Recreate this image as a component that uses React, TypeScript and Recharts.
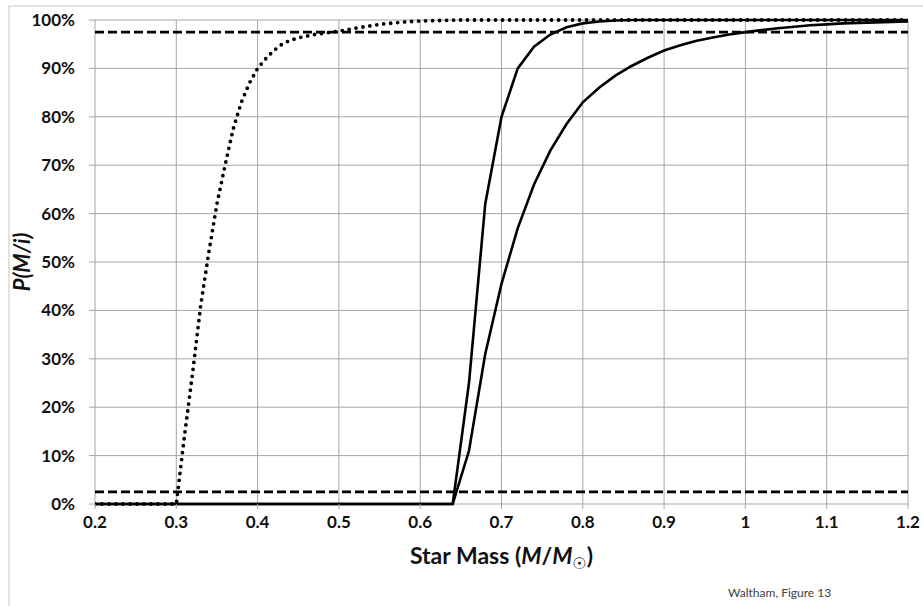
import { LineChart, Line, XAxis, YAxis, CartesianGrid, Label } from "recharts";

// star mass ticks (M/Msun) and probability ticks (%)
const xTicks = [0.2, 0.3, 0.4, 0.5, 0.6, 0.7, 0.8, 0.9, 1.0, 1.1, 1.2];
const yTicks = [0, 10, 20, 30, 40, 50, 60, 70, 80, 90, 100];

// dotted curve
const lowMass = [0.2, 0.3, 0.31, 0.32, 0.33, 0.34, 0.35, 0.36, 0.37, 0.38, 0.39, 0.4, 0.41, 0.42, 0.43, 0.44, 0.45, 0.47, 0.5, 0.52, 0.55, 0.58, 0.6, 0.65, 0.8, 1.0, 1.2];
const lowProb = [0, 0, 14, 27, 41, 52, 62, 70, 77.5, 83, 87, 90, 92, 93.7, 95, 95.8, 96.3, 97, 97.7, 98.3, 99.1, 99.6, 99.8, 100, 100, 100, 100];

// steep solid curve
const steepMass = [0.2, 0.64, 0.66, 0.68, 0.7, 0.72, 0.74, 0.76, 0.78, 0.8, 0.82, 0.84, 0.86, 0.9, 1.0, 1.1, 1.2];
const steepProb = [0, 0, 25, 62, 80, 90, 94.5, 97, 98.5, 99.3, 99.7, 99.9, 100, 100, 100, 100, 100];

// broad solid curve
const broadMass = [0.2, 0.64, 0.66, 0.68, 0.7, 0.72, 0.74, 0.76, 0.78, 0.8, 0.82, 0.84, 0.86, 0.88, 0.9, 0.92, 0.94, 0.96, 0.98, 1.0, 1.02, 1.04, 1.06, 1.08, 1.1, 1.12, 1.14, 1.16, 1.18, 1.2];
const broadProb = [0, 0, 11, 31, 45.5, 57, 66, 73, 78.5, 83, 86, 88.5, 90.5, 92.2, 93.7, 94.8, 95.7, 96.4, 97, 97.5, 97.9, 98.3, 98.6, 98.9, 99.1, 99.3, 99.4, 99.5, 99.6, 99.7];

// 2.5% / 97.5% bounds
const boundMass = [0.2, 1.2];
const upperBound = [97.5, 97.5];
const lowerBound = [2.5, 2.5];

const toRows = (xs: number[], ys: number[]) => xs.map((m, i) => ({ m, p: ys[i] }));

const GRID = "#a6a6a6";
const FONT = "Lato, 'Liberation Sans', sans-serif";

const App = () => {
  const tickStyle = { fontSize: 17, fontWeight: 700, fill: "#111", fontFamily: FONT };

  return (
    <div style={{ position: "absolute", left: 0, top: 0, width: 923, height: 606, overflow: "hidden", background: "#fff" }}>
      <div style={{ position: "absolute", left: 8, top: 5, width: 940, height: 640, border: "2px solid #e2e2e2" }} />
      <LineChart width={923} height={606} margin={{ top: 20, right: 15, bottom: 42, left: 15 }}>
        <CartesianGrid stroke={GRID} strokeWidth={1} />
        <XAxis
          type="number"
          dataKey="m"
          domain={[0.2, 1.2]}
          ticks={xTicks}
          allowDataOverflow
          height={60}
          tickFormatter={(v) => String(Number(Number(v).toFixed(1)))}
          tick={tickStyle}
          tickSize={5}
          tickMargin={7}
          axisLine={false}
          tickLine={{ stroke: GRID }}
        >
          <Label
            content={({ viewBox }: any) => (
              <text
                x={viewBox.x + viewBox.width / 2}
                y={viewBox.y + 60}
                textAnchor="middle"
                style={{ fontSize: 23, fontWeight: 700, fontFamily: FONT, fill: "#111" }}
              >
                Star Mass (<tspan style={{ fontStyle: "italic" }}>M</tspan>/<tspan style={{ fontStyle: "italic" }}>M</tspan>
                <tspan fontSize={16} dy={5} style={{ fontFamily: "'DejaVu Sans', sans-serif" }}>☉</tspan>
                <tspan dy={-5}>)</tspan>
              </text>
            )}
          />
        </XAxis>
        <YAxis
          type="number"
          domain={[0, 100]}
          ticks={yTicks}
          width={80}
          tickFormatter={(v) => `${v}%`}
          tick={tickStyle}
          tickSize={6}
          tickMargin={14}
          axisLine={false}
          tickLine={{ stroke: GRID }}
        >
          <Label
            content={({ viewBox }: any) => {
              const cx = viewBox.x + 15;
              const cy = viewBox.y + viewBox.height / 2;
              return (
                <text
                  x={cx}
                  y={cy}
                  textAnchor="middle"
                  transform={`rotate(-90 ${cx} ${cy})`}
                  style={{ fontSize: 22, fontWeight: 700, fontStyle: "italic", fontFamily: FONT, fill: "#111" }}
                >
                  P(M/i)
                </text>
              );
            }}
          />
        </YAxis>
        <Line
          data={toRows(lowMass, lowProb)}
          dataKey="p"
          type="linear"
          stroke="#000"
          strokeWidth={3.8}
          strokeDasharray="0 7"
          strokeLinecap="round"
          dot={false}
          isAnimationActive={false}
        />
        <Line
          data={toRows(steepMass, steepProb)}
          dataKey="p"
          type="linear"
          stroke="#000"
          strokeWidth={2.6}
          dot={false}
          isAnimationActive={false}
        />
        <Line
          data={toRows(broadMass, broadProb)}
          dataKey="p"
          type="linear"
          stroke="#000"
          strokeWidth={2.6}
          dot={false}
          isAnimationActive={false}
        />
        <Line
          data={toRows(boundMass, upperBound)}
          dataKey="p"
          type="linear"
          stroke="#000"
          strokeWidth={2.6}
          strokeDasharray="9 4"
          dot={false}
          isAnimationActive={false}
        />
        <Line
          data={toRows(boundMass, lowerBound)}
          dataKey="p"
          type="linear"
          stroke="#000"
          strokeWidth={2.6}
          strokeDasharray="9 4"
          dot={false}
          isAnimationActive={false}
        />
      </LineChart>
      <div
        style={{
          position: "absolute",
          left: 728,
          top: 585,
          fontSize: 12,
          fontFamily: FONT,
          color: "#404040",
          whiteSpace: "nowrap",
        }}
      >
        Waltham, Figure 13
      </div>
    </div>
  );
};

export default App;
